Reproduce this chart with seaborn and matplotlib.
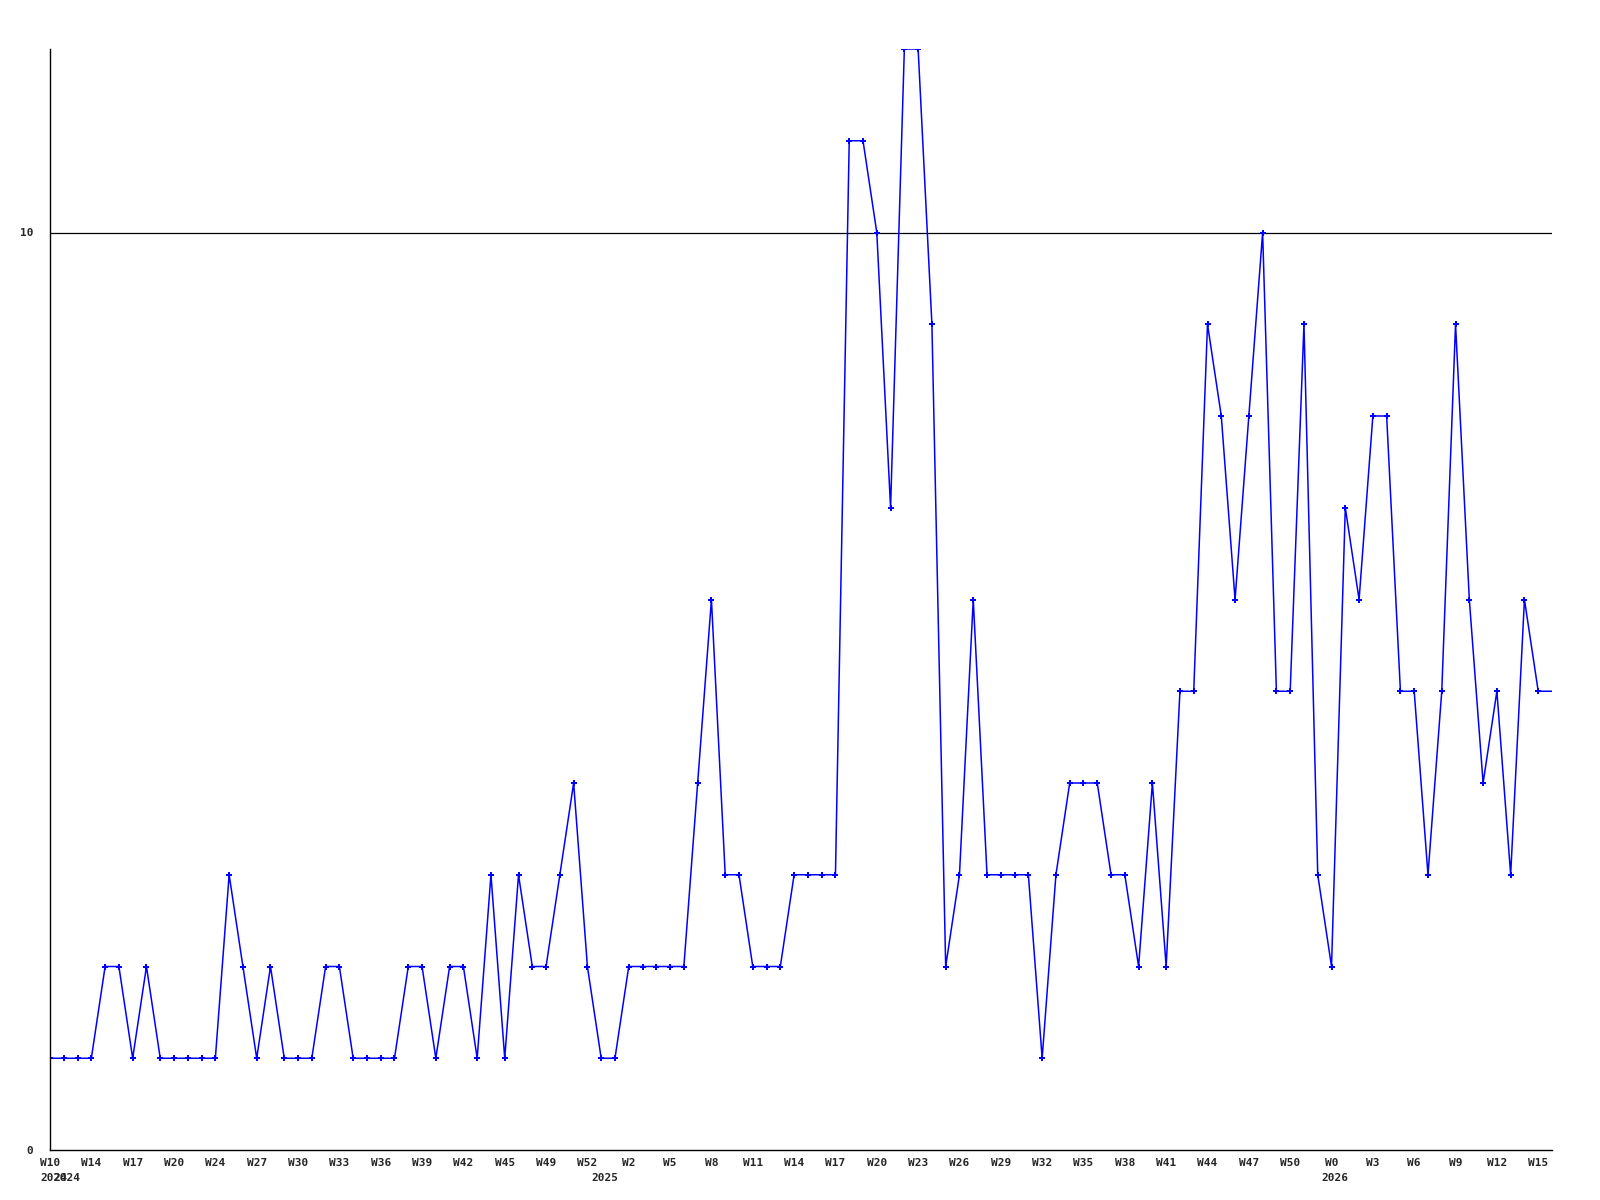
import numpy as np
import pandas as pd
import matplotlib
matplotlib.use('Agg')
import matplotlib.pyplot as plt
import matplotlib.transforms as mtransforms
import seaborn as sns

# weekly counts, one value per point
values = [1, 1, 1, 1, 2, 2, 1, 2, 1, 1, 1, 1, 1, 3, 2, 1, 2, 1, 1, 1,
          2, 2, 1, 1, 1, 1, 2, 2, 1, 2, 2, 1, 3, 1, 3, 2, 2, 3, 4, 2,
          1, 1, 2, 2, 2, 2, 2, 4, 6, 3, 3, 2, 2, 2, 3, 3, 3, 3, 11, 11,
          10, 7, 12, 12, 9, 2, 3, 6, 3, 3, 3, 3, 1, 3, 4, 4, 4, 3, 3, 2,
          4, 2, 5, 5, 9, 8, 6, 8, 10, 5, 5, 9, 3, 2, 7, 6, 8, 8, 5, 5,
          3, 5, 9, 6, 4, 5, 3, 6, 5, 5]

# labels shown every 3rd point
week_labels = ['W10', 'W14', 'W17', 'W20', 'W24', 'W27', 'W30', 'W33', 'W36', 'W39',
               'W42', 'W45', 'W49', 'W52', 'W2', 'W5', 'W8', 'W11', 'W14', 'W17',
               'W20', 'W23', 'W26', 'W29', 'W32', 'W35', 'W38', 'W41', 'W44', 'W47',
               'W50', 'W0', 'W3', 'W6', 'W9', 'W12', 'W15']

# year labels and the point they start at
year_labels = ['2024', '2024', '2025', '2026']
year_pos = [0, 1, 40, 93]

df = pd.DataFrame({'idx': np.arange(len(values)), 'count': values})

sns.set_style('white')
plt.rcParams['font.family'] = ['DejaVu Sans Mono', 'DejaVu Sans']
plt.rcParams['font.weight'] = 'bold'

fig = plt.figure(figsize=(16, 12), dpi=100)
ax = fig.add_axes([50 / 1600, 50 / 1200, 1502 / 1600, 1101 / 1200])

sns.lineplot(data=df, x='idx', y='count', ax=ax, color='#0000ff', linewidth=1.1,
             marker='P', markersize=5, markeredgewidth=0, markevery=list(range(len(values) - 1)))

ax.axhline(10, color='black', linewidth=0.9, zorder=0)

ax.set_xlim(0, len(values) - 1)
ax.set_ylim(0, 12)
ax.set_yticks([0, 10])
ax.set_yticklabels(['0', '10'], fontsize=8, fontweight='bold')
ax.tick_params(axis='y', length=0, pad=12)

ticks = list(range(0, len(values), 3))[:len(week_labels)]
ax.set_xticks(ticks)
ax.set_xticklabels(week_labels, fontsize=8, fontweight='bold')
ax.tick_params(axis='x', length=0, pad=6)

# year row, the 2024 pair overlaps like in the original
trans = mtransforms.blended_transform_factory(ax.transData, ax.transAxes)
for lab, p in zip(year_labels, year_pos):
    ax.text(p - 0.72, -0.021, lab, transform=trans, ha='left', va='top',
            fontsize=8, fontweight='bold')

ax.set_xlabel('')
ax.set_ylabel('')
for s in ['top', 'right']:
    ax.spines[s].set_visible(False)
for s in ['left', 'bottom']:
    ax.spines[s].set_color('black')
    ax.spines[s].set_linewidth(1.0)

fig.savefig('out.png', dpi=100)
